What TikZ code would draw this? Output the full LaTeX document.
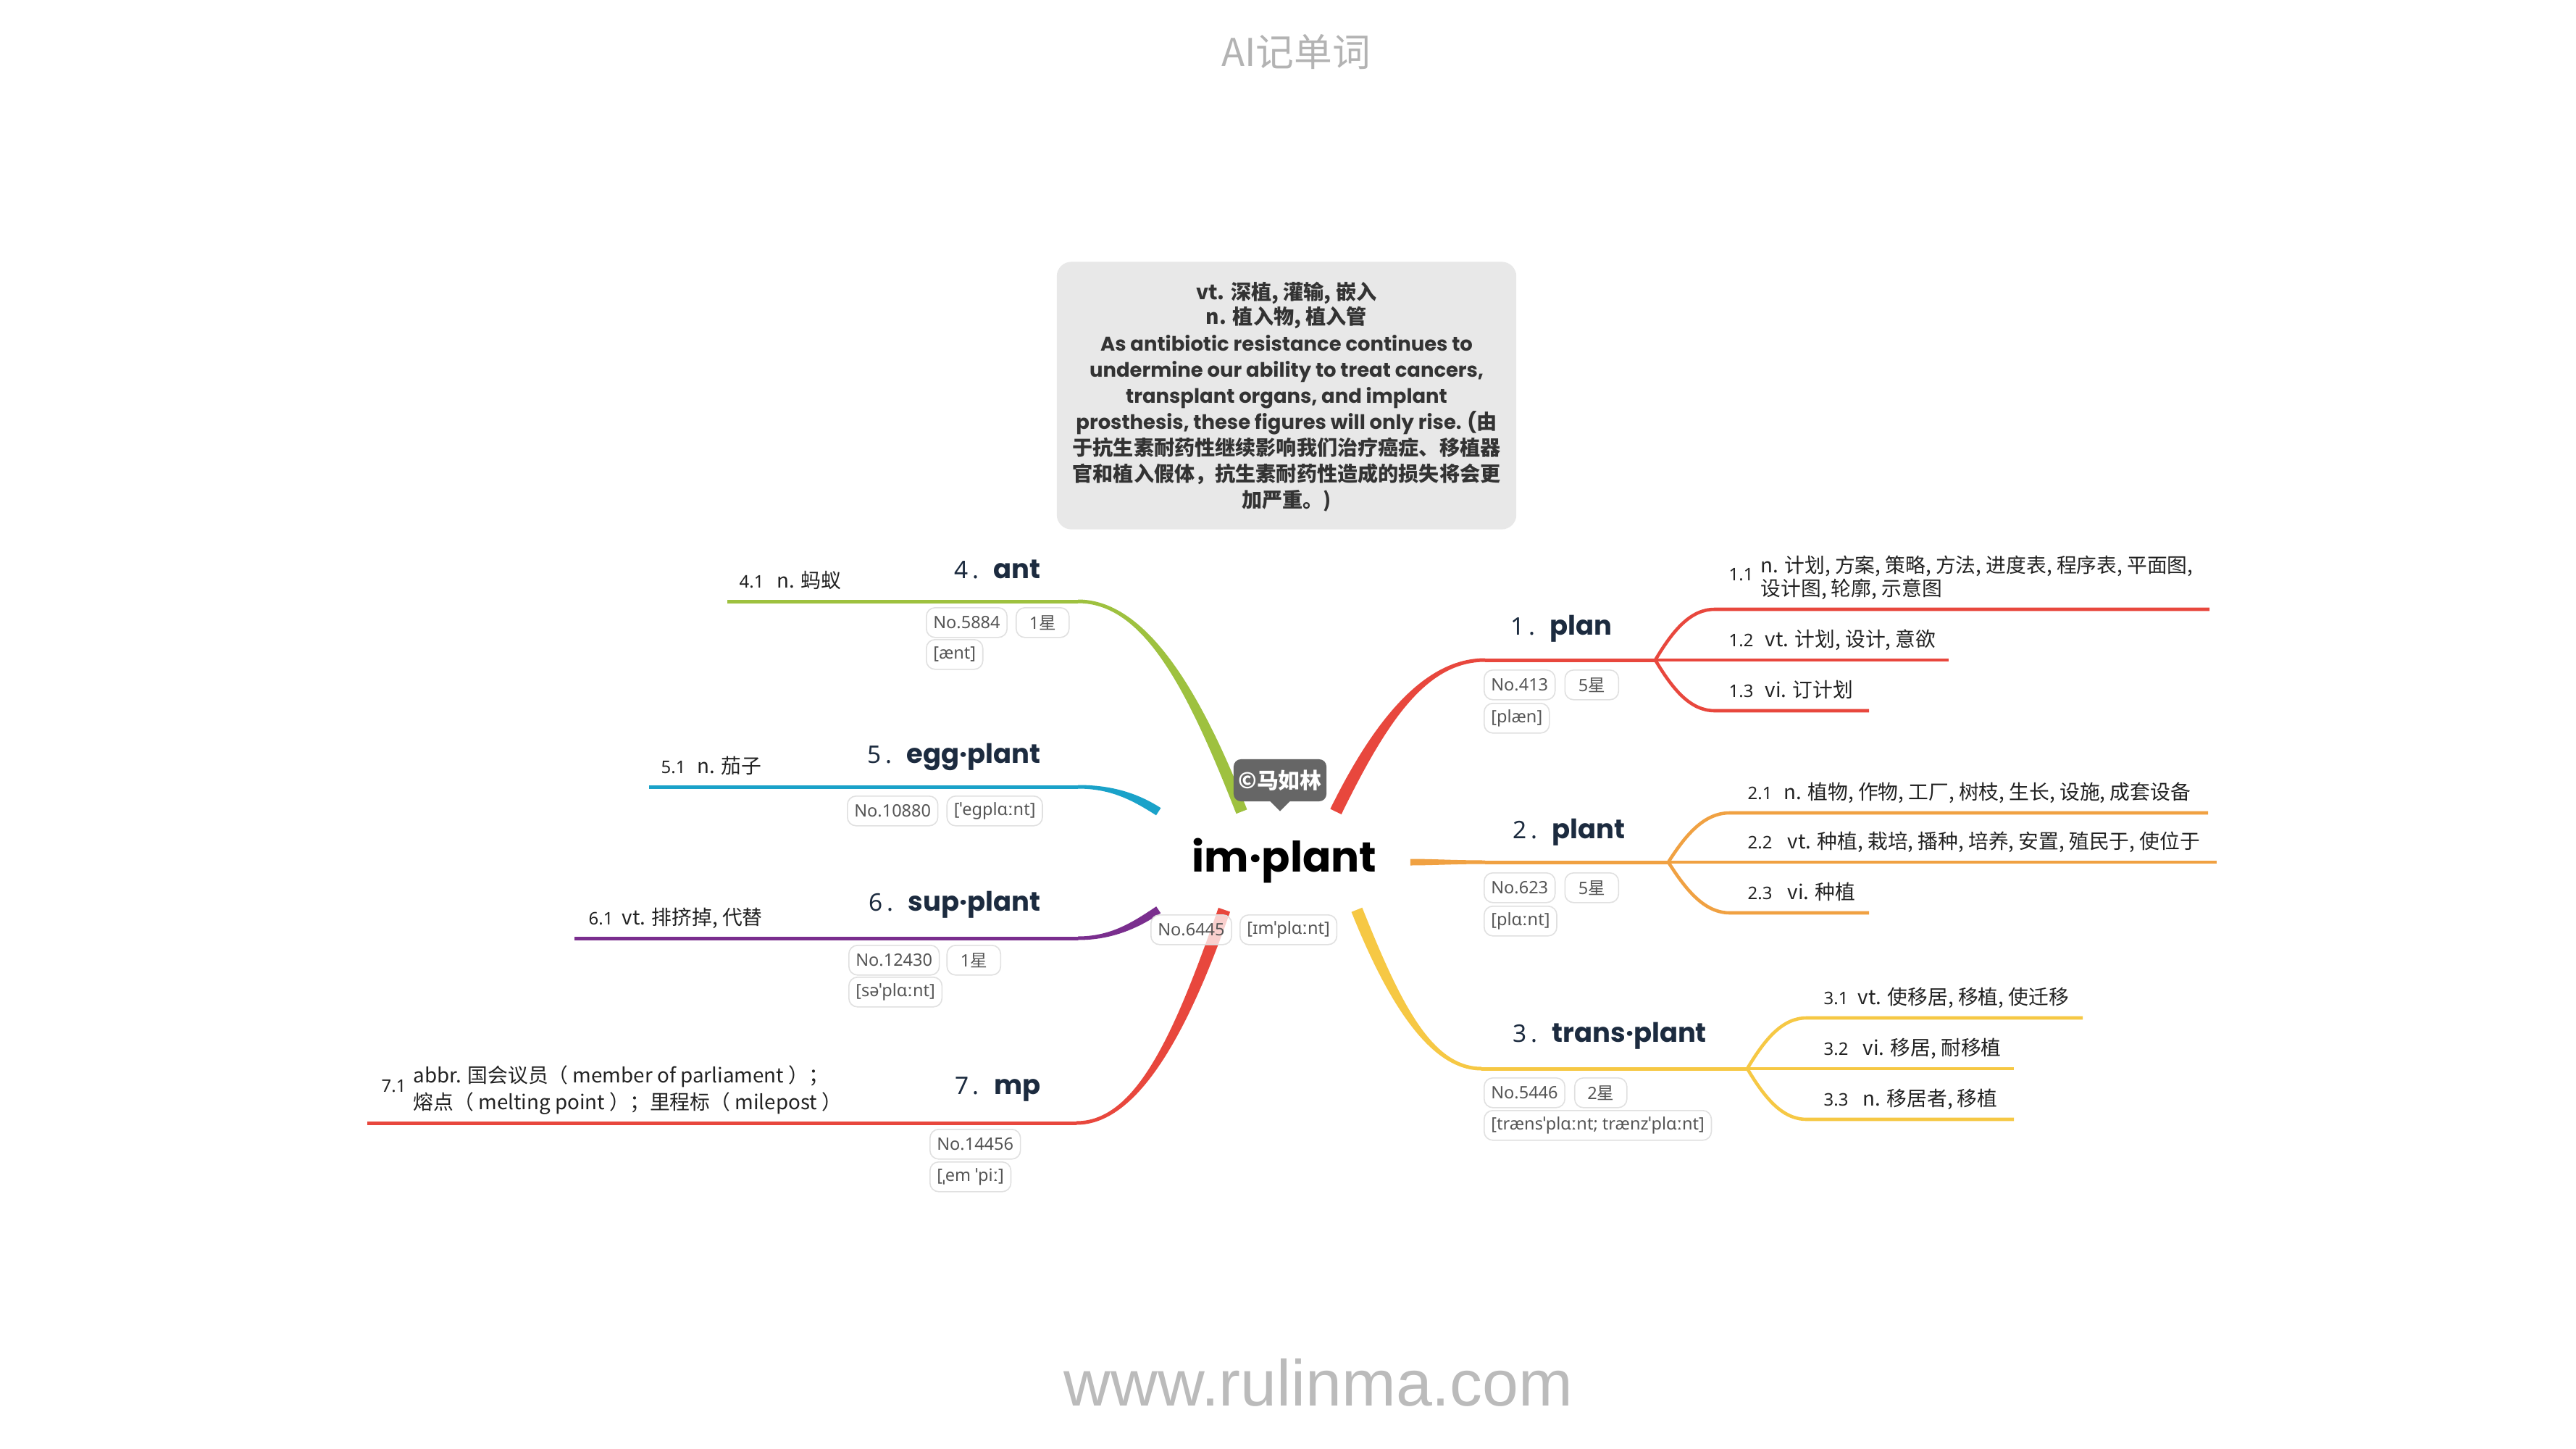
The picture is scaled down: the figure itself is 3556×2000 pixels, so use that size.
\documentclass[tikz,border=0pt]{standalone}
\usepackage{fontspec}
\setmainfont{Noto Sans CJK SC}
\newfontfamily\pop{Poppins}
\newfontfamily\nsans{Noto Sans}
\newfontfamily\lib{Liberation Sans}
\usetikzlibrary{calc}
\definecolor{cred}{HTML}{E8473D}
\definecolor{corange}{HTML}{F0A142}
\definecolor{cyellow}{HTML}{F6C844}
\definecolor{cgreen}{HTML}{9EC13F}
\definecolor{ccyan}{HTML}{1AA2C9}
\definecolor{cpurple}{HTML}{7A2E8E}
\definecolor{navy}{HTML}{1C2B3F}
\definecolor{subtxt}{HTML}{222222}
\definecolor{boxfill}{HTML}{E8E8E8}
\definecolor{boxtxt}{HTML}{333333}
\definecolor{tagfill}{HTML}{666666}
\definecolor{pillline}{HTML}{E0E0E0}
\definecolor{pilltxt}{HTML}{555555}
\definecolor{wmark}{HTML}{BBBBBB}
\definecolor{titlec}{HTML}{B3B3B3}
% tapered branch: colour, R, C1, C2, H, half width at R, half width at H
\newcommand\taper[7]{%
  \fill[#1] ($(#2)!#6!90:(#3)$) .. controls ($(#3)!#6!-90:(#2)$) and ($(#4)!#7!90:(#5)$) .. ($(#5)!#7!-90:(#4)$)
    -- ($(#5)!#7!90:(#4)$) .. controls ($(#4)!#7!-90:(#5)$) and ($(#3)!#6!90:(#2)$) .. ($(#2)!#6!-90:(#3)$) -- cycle;}
\newcommand\hd[2]{{\nsans\mdseries\fontsize{9.5}{11}\selectfont #1\,.}\hspace{0.55em}#2}
\newcommand\xing{{\rmfamily 星}}
\newcommand\cjkbox{\bfseries\fontsize{8}{10}\selectfont}
\newcommand\popbox{\pop\bfseries\fontsize{7.8}{10}\selectfont}
\begin{document}
\begin{tikzpicture}[x=0.01cm,y=-0.01cm,
  head/.style={font=\pop\bfseries\fontsize{10.5}{12}\selectfont, text=navy, inner sep=0},
  subt/.style={font=\fontsize{7.9}{10}\selectfont, text=subtxt, inner sep=0, anchor=base west},
  subn/.style={font=\nsans\fontsize{6.8}{8}\selectfont, text=subtxt, inner sep=0, anchor=base west},
  boxln/.style={text=boxtxt, inner sep=0, anchor=base},
  pill/.style={draw=pillline, line width=0.45pt, fill=white, rounded corners=0.12cm, minimum height=0.41cm, inner xsep=0.095cm, inner ysep=0, font=\nsans\fontsize{6.7}{8}\selectfont, text=pilltxt, anchor=north west},
  mainln/.style={line width=1.42pt},
  subln/.style={line width=1.3pt}]
\fill[white] (0,0) rectangle (3556,2000);
\useasboundingbox (0,0) rectangle (3556,2000);

% title and definition box
\node[font=\fontsize{15}{18}\selectfont, text=titlec, inner sep=0] (title) at (1789,72) {AI记单词};
\node[fill=boxfill, rounded corners=0.2cm, minimum width=6.34cm, minimum height=3.69cm, inner sep=0] (defbox) at (1776,546) {};
\node[boxln] (dl1) at (1776,413) {\cjkbox vt. 深植, 灌输, 嵌入};
\node[boxln] (dl2) at (1776,448) {\cjkbox n. 植入物, 植入管};
\node[boxln] (dl3) at (1776,484) {\popbox As antibiotic resistance continues to};
\node[boxln] (dl4) at (1776,520) {\popbox undermine our ability to treat cancers,};
\node[boxln] (dl5) at (1776,556) {\popbox transplant organs, and implant};
\node[boxln] (dl6) at (1776,592) {{\popbox prosthesis, these figures will only rise. (}{\cjkbox 由}};
\node[boxln] (dl7) at (1776,628) {\cjkbox 于抗生素耐药性继续影响我们治疗癌症、移植器};
\node[boxln] (dl8) at (1776,664) {\cjkbox 官和植入假体，抗生素耐药性造成的损失将会更};
\node[boxln] (dl9) at (1776,700) {\cjkbox 加严重。)};

% root
\node[fill=white, minimum width=3.46cm, minimum height=1.34cm, inner sep=0, font=\pop\bfseries\fontsize{16.5}{20}\selectfont, text=black] (root) at (1773,1188) {im·plant};

% branch coordinates
\coordinate (r1) at ($(root.north)+(71,0)$);
\coordinate (r2) at ($(root.east)+(0,2)$);
\coordinate (r3) at ($(root.south)+(100,0)$);
\coordinate (r4) at ($(root.north)+(-59,0)$);
\coordinate (r5) at (root.north west);
\coordinate (r6) at (root.south west);
\coordinate (r7) at ($(root.south)+(-83,0)$);
\coordinate (h1) at (2050,911);  \coordinate (j1) at (2285,911);
\coordinate (h2) at (2050,1190); \coordinate (j2) at (2303,1190);
\coordinate (h3) at (2045,1475); \coordinate (j3) at (2412,1475);
\coordinate (h4) at (1488,830);  \coordinate (e4) at (1004,830);
\coordinate (h5) at (1488,1086); \coordinate (e5) at (896,1086);
\coordinate (h6) at (1488,1295); \coordinate (e6) at (793,1295);
\coordinate (h7) at (1486,1550); \coordinate (e7) at (507,1550);
\coordinate (k1a) at (1906,994);  \coordinate (k1b) at (1968,911);
\coordinate (k2a) at (1977,1190); \coordinate (k2b) at (2008,1190);
\coordinate (k3a) at (1925,1386); \coordinate (k3b) at (1976,1475);
\coordinate (k4a) at (1646,946);  \coordinate (k4b) at (1578,830);
\coordinate (k5a) at (1566,1099); \coordinate (k5b) at (1533,1086);
\coordinate (k6a) at (1566,1278); \coordinate (k6b) at (1533,1295);
\coordinate (k7a) at (1629,1431); \coordinate (k7b) at (1568,1550);

% main branches
\taper{cred}{r1}{k1a}{k1b}{h1}{0.085cm}{0.025cm}
\draw[cred, mainln] (h1) -- (j1);
\taper{corange}{r2}{k2a}{k2b}{h2}{0.045cm}{0.025cm}
\draw[corange, mainln] (h2) -- (j2);
\taper{cyellow}{r3}{k3a}{k3b}{h3}{0.08cm}{0.025cm}
\draw[cyellow, mainln] (h3) -- (j3);
\taper{cgreen}{r4}{k4a}{k4b}{h4}{0.08cm}{0.025cm}
\draw[cgreen, mainln] (h4) -- (e4);
\taper{ccyan}{r5}{k5a}{k5b}{h5}{0.06cm}{0.025cm}
\draw[ccyan, mainln] (h5) -- (e5);
\taper{cpurple}{r6}{k6a}{k6b}{h6}{0.055cm}{0.025cm}
\draw[cpurple, mainln] (h6) -- (e6);
\taper{cred}{r7}{k7a}{k7b}{h7}{0.085cm}{0.025cm}
\draw[cred, mainln] (h7) -- (e7);

% sub branches
\coordinate (s11h) at (2367,841);  \coordinate (s11e) at (3050,841);
\coordinate (s12e) at (2690,911);
\coordinate (s13h) at (2367,981);  \coordinate (s13e) at (2580,981);
\coordinate (s21h) at (2388,1122); \coordinate (s21e) at (3048,1122);
\coordinate (s22e) at (3060,1190);
\coordinate (s23h) at (2388,1260); \coordinate (s23e) at (2580,1260);
\coordinate (s31h) at (2494,1405); \coordinate (s31e) at (2875,1405);
\coordinate (s32e) at (2780,1475);
\coordinate (s33h) at (2494,1545); \coordinate (s33e) at (2780,1545);
\draw[cred, subln] (j1) .. controls (2310,869) and (2334,841) .. (s11h) -- (s11e);
\draw[cred, subln] (j1) -- (s12e);
\draw[cred, subln] (j1) .. controls (2310,953) and (2334,981) .. (s13h) -- (s13e);
\draw[corange, subln] (j2) .. controls (2329,1149) and (2354,1122) .. (s21h) -- (s21e);
\draw[corange, subln] (j2) -- (s22e);
\draw[corange, subln] (j2) .. controls (2329,1231) and (2354,1260) .. (s23h) -- (s23e);
\draw[cyellow, subln] (j3) .. controls (2437,1433) and (2461,1405) .. (s31h) -- (s31e);
\draw[cyellow, subln] (j3) -- (s32e);
\draw[cyellow, subln] (j3) .. controls (2437,1517) and (2461,1545) .. (s33h) -- (s33e);

% copyright tag
\node[fill=tagfill, rounded corners=0.1cm, text=white, inner sep=0, minimum width=1.28cm, minimum height=0.58cm, font=\bfseries\fontsize{8.5}{10}\selectfont] (tag) at (1767,1077) {©马如林};
\fill[tagfill] ($(tag.south)+(-14,-1)$) -- ($(tag.south)+(14,-1)$) -- ($(tag.south)+(0,13)$) -- cycle;

% root pills
\node[pill, fill opacity=0.75, text opacity=1] (p0n) at (1588,1262) {No.6445};
\node[pill, fill opacity=0.75, text opacity=1] (p0i) at (1711,1262) {[ɪmˈplɑːnt]};

% headings
\node[head, anchor=base west] (t1) at (2085,876) {\hd{1}{plan}};
\node[head, anchor=base west] (t2) at (2088,1157) {\hd{2}{plant}};
\node[head, anchor=base west] (t3) at (2088,1438) {\hd{3}{trans·plant}};
\node[head, anchor=base east] (t4) at (1437,798) {\hd{4}{ant}};
\node[head, anchor=base east] (t5) at (1437,1053) {\hd{5}{egg·plant}};
\node[head, anchor=base east] (t6) at (1437,1257) {\hd{6}{sup·plant}};
\node[head, anchor=base east] (t7) at (1437,1510) {\hd{7}{mp}};

% pills
\node[pill] (p1n) at (2048,924) {No.413};
\node[pill, minimum width=0.74cm] (p1s) at ($(p1n.north east)+(12,0)$) {5\xing};
\node[pill] (p1i) at (2048,970) {[plæn]};
\node[pill] (p2n) at (2048,1204) {No.623};
\node[pill, minimum width=0.74cm] (p2s) at ($(p2n.north east)+(12,0)$) {5\xing};
\node[pill] (p2i) at (2048,1250) {[plɑːnt]};
\node[pill] (p3n) at (2048,1487) {No.5446};
\node[pill, minimum width=0.72cm] (p3s) at ($(p3n.north east)+(12,0)$) {2\xing};
\node[pill] (p3i) at (2048,1532) {[trænsˈplɑːnt; trænzˈplɑːnt]};
\node[pill] (p4n) at (1278,838) {No.5884};
\node[pill, minimum width=0.73cm] (p4s) at ($(p4n.north east)+(11,0)$) {1\xing};
\node[pill] (p4i) at (1278,882) {[ænt]};
\node[pill] (p5n) at (1169,1098) {No.10880};
\node[pill] (p5i) at ($(p5n.north east)+(11,0)$) {[ˈegplɑːnt]};
\node[pill] (p6n) at (1171,1304) {No.12430};
\node[pill, minimum width=0.74cm] (p6s) at ($(p6n.north east)+(9,0)$) {1\xing};
\node[pill] (p6i) at (1171,1348) {[səˈplɑːnt]};
\node[pill] (p7n) at (1283,1558) {No.14456};
\node[pill] (p7i) at (1283,1603) {[ˌem ˈpiː]};

% sub texts
\node[subn] (n11) at (2386,801) {1.1};
\node[subt] (d11a) at (2430,790) {n. 计划, 方案, 策略, 方法, 进度表, 程序表, 平面图,};
\node[subt] (d11b) at (2430,822) {设计图, 轮廓, 示意图};
\node[subn] (n12) at (2386,892) {1.2};
\node[subt] (d12) at (2436,892) {vt. 计划, 设计, 意欲};
\node[subn] (n13) at (2386,962) {1.3};
\node[subt] (d13) at (2436,962) {vi. 订计划};
\node[subn] (n21) at (2412,1103) {2.1};
\node[subt] (d21) at (2462,1103) {n. 植物, 作物, 工厂, 树枝, 生长, 设施, 成套设备};
\node[subn] (n22) at (2412,1171) {2.2};
\node[subt] (d22) at (2467,1171) {vt. 种植, 栽培, 播种, 培养, 安置, 殖民于, 使位于};
\node[subn] (n23) at (2412,1241) {2.3};
\node[subt] (d23) at (2467,1241) {vi. 种植};
\node[subn] (n31) at (2517,1386) {3.1};
\node[subt] (d31) at (2564,1386) {vt. 使移居, 移植, 使迁移};
\node[subn] (n32) at (2517,1456) {3.2};
\node[subt] (d32) at (2571,1456) {vi. 移居, 耐移植};
\node[subn] (n33) at (2517,1526) {3.3};
\node[subt] (d33) at (2571,1526) {n. 移居者, 移植};
\node[subn] (n41) at (1020,811) {4.1};
\node[subt] (d41) at (1072,811) {n. 蚂蚁};
\node[subn] (n51) at (912,1067) {5.1};
\node[subt] (d51) at (962,1067) {n. 茄子};
\node[subn] (n61) at (812,1276) {6.1};
\node[subt] (d61) at (858,1276) {vt. 排挤掉, 代替};
\node[subn] (n71) at (526,1507) {7.1};
\node[subt] (d71a) at (570,1494) {abbr. 国会议员（ member of parliament ）；};
\node[subt] (d71b) at (570,1531) {熔点（ melting point ）；里程标（ milepost ）};

% watermark
\node[font=\lib\fontsize{25.5}{28}\selectfont, text=wmark, inner sep=0, anchor=base] (wm) at (1820,1940) {www.rulinma.com};
\end{tikzpicture}
\end{document}
